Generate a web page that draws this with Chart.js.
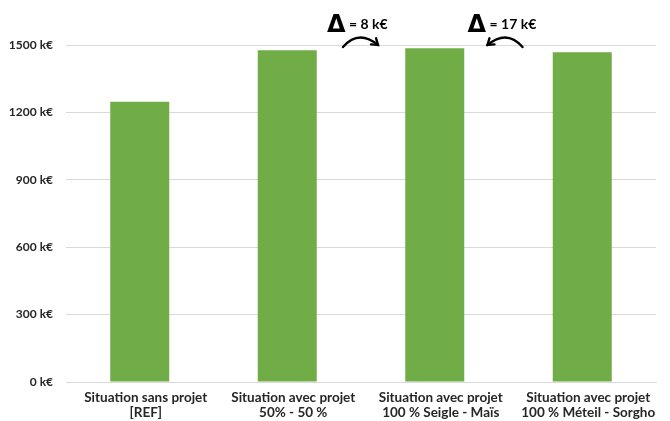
<!DOCTYPE html>
<html>
<head>
<meta charset="utf-8">
<script src="https://cdn.jsdelivr.net/npm/chart.js@4"></script>
<style>
  html, body { margin: 0; padding: 0; background: #fff; }
  #wrap { width: 670px; height: 421px; position: relative; }
</style>
</head>
<body>
<div id="wrap"><canvas id="c" width="670" height="421"></canvas></div>
<script>
const categories = [
  ["Situation sans projet", "[REF]"],
  ["Situation avec projet", "50% - 50 %"],
  ["Situation avec projet", "100 % Seigle - Maïs"],
  ["Situation avec projet", "100 % Méteil - Sorgho"]
];
const values = [1247, 1477, 1485, 1468];
const yTicks = [0, 300, 600, 900, 1200, 1500];
const tickSuffix = " k€";
const deltaLabels = ["= 8 k€", "= 17 k€"];

const FONT = "Lato, 'Open Sans', 'Liberation Sans', sans-serif";

const annotations = {
  id: 'annotations',
  afterDraw(chart) {
    const ctx = chart.ctx;
    const xs = chart.scales.x;
    const top = chart.scales.y.top;
    ctx.save();
    ctx.fillStyle = '#000';
    ctx.strokeStyle = '#000';
    const items = [
      { mid: xs.getPixelForValue(1.5), label: deltaLabels[0], dx: -33, a: [-18, 17], dir: 1 },
      { mid: xs.getPixelForValue(2.5), label: deltaLabels[1], dx: -40, a: [14, -21], dir: -1 }
    ];
    items.forEach(it => {
      const x0 = it.mid + it.dx;
      ctx.font = "bold 24px 'DejaVu Sans', sans-serif";
      ctx.textBaseline = 'alphabetic';
      ctx.textAlign = 'left';
      ctx.fillText('Δ', x0 - 1, top - 13);
      ctx.font = "bold 14px " + FONT;
      ctx.textBaseline = 'middle';
      ctx.fillText(it.label, x0 + 21, top - 21);
      // arrow
      const sx = it.mid + it.a[0], ex = it.mid + it.a[1];
      const sy = top + 2, ey = top;
      const cx = (sx + ex) / 2 - it.dir * 2, cy = top - 16;
      ctx.lineWidth = 2.4;
      ctx.lineCap = 'round';
      ctx.beginPath();
      ctx.moveTo(sx, sy);
      ctx.quadraticCurveTo(cx, cy, ex, ey);
      ctx.stroke();
      const ang = Math.atan2(ey - cy, ex - cx);
      const L = 7;
      ctx.beginPath();
      ctx.moveTo(ex - L * Math.cos(ang - 0.6), ey - L * Math.sin(ang - 0.6));
      ctx.lineTo(ex, ey);
      ctx.lineTo(ex - L * Math.cos(ang + 0.6), ey - L * Math.sin(ang + 0.6));
      ctx.stroke();
    });
    ctx.restore();
  }
};

new Chart(document.getElementById('c'), {
  type: 'bar',
  data: {
    labels: categories,
    datasets: [{
      data: values,
      backgroundColor: '#70AD47',
      borderWidth: 0,
      barPercentage: 0.8,
      categoryPercentage: 0.5
    }]
  },
  options: {
    responsive: false,
    animation: false,
    layout: { padding: { top: 45, right: 14, left: 0, bottom: 0 } },
    plugins: { legend: { display: false }, tooltip: { enabled: false } },
    scales: {
      x: {
        grid: { display: false },
        border: { display: true, color: '#d9d9d9', width: 1 },
        ticks: {
          color: '#262626',
          font: { family: FONT, size: 13.5, weight: 'bold', lineHeight: 1.1 },
          padding: 0,
          labelOffset: 6,
          maxRotation: 0,
          autoSkip: false
        },
        afterFit(scale) { scale.height = 39; }
      },
      y: {
        min: 0,
        max: 1500,
        afterBuildTicks(scale) { scale.ticks = yTicks.map(v => ({ value: v })); },
        grid: { color: '#d9d9d9', lineWidth: 1, drawTicks: false },
        border: { display: false },
        ticks: {
          color: '#262626',
          font: { family: FONT, size: 12, weight: 'bold' },
          padding: 13,
          callback: v => v + tickSuffix
        },
        afterFit(scale) { scale.width = 66; }
      }
    }
  },
  plugins: [annotations]
});
</script>
</body>
</html>
